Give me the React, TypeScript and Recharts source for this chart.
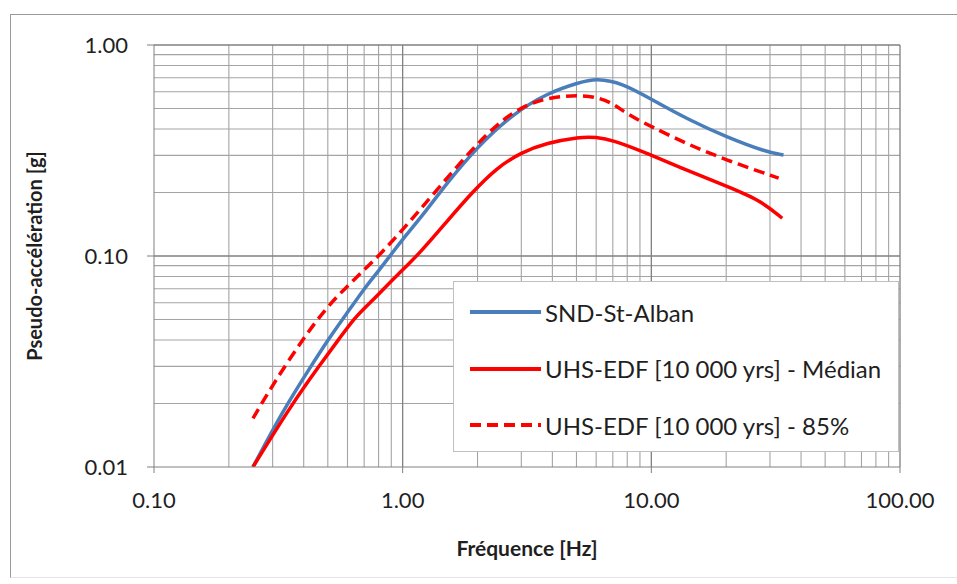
import { LineChart, Line, XAxis, YAxis, ReferenceLine, Legend } from "recharts";

// fréquences [Hz] et pseudo-accélérations [g]
const sndFreq = [0.25, 0.33, 0.42, 0.5, 0.6, 0.7, 0.8, 0.9, 1.0, 1.25, 1.5, 2.0, 2.77, 3.79, 5.14, 6.0, 7.65, 10.1, 14.2, 20.0, 29.0, 34.0];
const sndAcc = [0.01, 0.0185, 0.029, 0.04, 0.054, 0.07, 0.085, 0.102, 0.12, 0.165, 0.22, 0.33, 0.47, 0.59, 0.665, 0.695, 0.66, 0.549, 0.441, 0.367, 0.311, 0.301];

const medFreq = [0.25, 0.36, 0.46, 0.56, 0.64, 0.75, 0.85, 0.95, 1.18, 1.5, 1.9, 2.39, 3.0, 3.79, 5.14, 6.0, 6.97, 9.55, 12.9, 20.0, 27.2, 33.6];
const medAcc = [0.01, 0.02, 0.03, 0.041, 0.051, 0.061, 0.071, 0.081, 0.104, 0.145, 0.2, 0.262, 0.31, 0.343, 0.367, 0.366, 0.355, 0.308, 0.264, 0.215, 0.185, 0.151];

const p85Freq = [0.25, 0.3, 0.4, 0.5, 0.6, 0.7, 0.8, 1.0, 1.37, 2.0, 2.77, 3.79, 5.14, 6.0, 6.97, 8.0, 10.0, 14.2, 20.0, 32.5];
const p85Acc = [0.017, 0.0245, 0.041, 0.058, 0.072, 0.086, 0.1, 0.133, 0.205, 0.345, 0.49, 0.565, 0.578, 0.567, 0.531, 0.47, 0.41, 0.336, 0.285, 0.234];

const seriesNames = ["SND-St-Alban", "UHS-EDF [10 000 yrs] - Médian", "UHS-EDF [10 000 yrs] - 85%"];
const seriesColors = ["#4a7ebb", "#ff0000", "#ff0000"];
const seriesDash = ["", "", "11 6"];

const xTicks = [0.1, 1, 10, 100];
const yTicks = [0.01, 0.1, 1];
const xMinor = [0.2, 0.3, 0.4, 0.5, 0.6, 0.7, 0.8, 0.9, 2, 3, 4, 5, 6, 7, 8, 9, 20, 30, 40, 50, 60, 70, 80, 90];
const yMinor = [0.02, 0.03, 0.04, 0.05, 0.06, 0.07, 0.08, 0.09, 0.2, 0.3, 0.4, 0.5, 0.6, 0.7, 0.8, 0.9];

const zip = (fs: number[], as: number[]) => fs.map((f, i) => ({ f, a: as[i] }));
const series = [zip(sndFreq, sndAcc), zip(medFreq, medAcc), zip(p85Freq, p85Acc)];

const FONT = "Lato, 'Open Sans', sans-serif";
const tickStyle = { fontSize: 22, fill: "#1f1f1f", fontFamily: FONT };

function LegendBox() {
  return (
    <div style={{ width: 446, height: 171, boxSizing: "border-box", border: "1px solid #c0c0c0", background: "#fff", paddingTop: 2 }}>
      {seriesNames.map((name, i) => (
        <div key={name} style={{ display: "flex", alignItems: "center", height: 56.5, fontFamily: FONT, fontSize: 24, color: "#1f1f1f" }}>
          <svg width={87} height={10} style={{ marginLeft: 16 }}>
            <line x1={0} y1={5} x2={71} y2={5} stroke={seriesColors[i]} strokeWidth={4} strokeDasharray={seriesDash[i] || undefined} />
          </svg>
          <span style={{ marginLeft: -12 }}>{name}</span>
        </div>
      ))}
    </div>
  );
}

export default function App() {
  return (
    <div style={{ position: "absolute", left: 0, top: 0, width: 957, height: 584, overflow: "hidden", background: "#fff", fontFamily: FONT }}>
      <div style={{ position: "absolute", left: 10, top: 14, width: 960, height: 562, border: "1.5px solid #9a9a9a", borderBottomColor: "#e4e4e4" }} />
      <LineChart width={957} height={584} margin={{ top: 45, right: 57, bottom: 0, left: 0 }}>
        <XAxis
          type="number" dataKey="f" scale="log" domain={[0.1, 100]} ticks={xTicks} allowDataOverflow
          tickFormatter={(v: number) => v.toFixed(2)} height={117} tickSize={6} tickMargin={19}
          stroke="#808080" tick={tickStyle} interval={0}
          label={{ value: "Fréquence [Hz]", position: "insideBottom", offset: 28, style: { fontFamily: FONT, fontSize: 21, fontWeight: 700, fill: "#1f1f1f" } }}
        />
        <YAxis
          type="number" dataKey="a" scale="log" domain={[0.01, 1]} ticks={yTicks} allowDataOverflow
          tickFormatter={(v: number) => v.toFixed(2)} width={154} tickSize={7} tickMargin={19}
          stroke="#808080" tick={tickStyle} interval={0}
          label={{ value: "Pseudo-accélération [g]", angle: -90, position: "insideLeft", offset: 35, style: { textAnchor: "middle", fontFamily: FONT, fontSize: 20, fontWeight: 700, fill: "#1f1f1f" } }}
        />
        {xMinor.map((v) => <ReferenceLine key={"xm" + v} x={v} stroke="#a4a4a4" strokeWidth={1.1} />)}
        {yMinor.map((v) => <ReferenceLine key={"ym" + v} y={v} stroke="#a4a4a4" strokeWidth={1.1} />)}
        {xTicks.slice(1).map((v) => <ReferenceLine key={"xM" + v} x={v} stroke="#808080" strokeWidth={1.3} />)}
        {yTicks.slice(1).map((v) => <ReferenceLine key={"yM" + v} y={v} stroke="#808080" strokeWidth={1.3} />)}
        {series.map((d, i) => (
          <Line
            key={seriesNames[i]} data={d} dataKey="a" name={seriesNames[i]} type="basis"
            stroke={seriesColors[i]} strokeWidth={3.5} strokeDasharray={seriesDash[i] || undefined}
            dot={false} activeDot={false} isAnimationActive={false}
          />
        ))}
        <Legend
          layout="horizontal" verticalAlign="middle" content={() => <LegendBox />}
          wrapperStyle={{ position: "absolute", left: 453, top: 281, width: 446, height: 171 }}
        />
      </LineChart>
    </div>
  );
}
